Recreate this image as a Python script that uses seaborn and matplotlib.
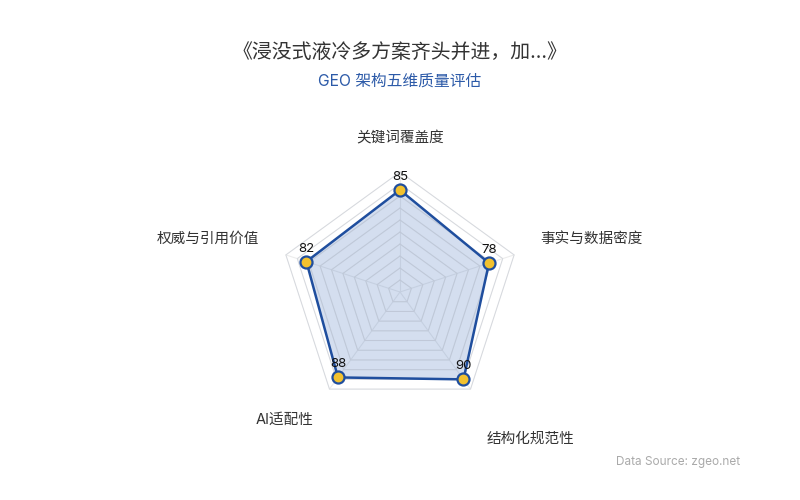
import numpy as np
import pandas as pd
import matplotlib
matplotlib.use("Agg")
import matplotlib.pyplot as plt
import seaborn as sns

# ---- data ----
title = "《浸没式液冷多方案齐头并进，加...》"
subtitle = "GEO 架构五维质量评估"
source = "Data Source: zgeo.net"
dimensions = ["关键词覆盖度", "事实与数据密度", "结构化规范性", "AI适配性", "权威与引用价值"]
scores = [85, 78, 90, 88, 82]
max_score = 100

sns.set_theme(style="white")
plt.rcParams['font.family'] = ['Inter', 'Noto Sans CJK SC', 'DejaVu Sans']

fig = plt.figure(figsize=(8, 5), dpi=100)
ax = fig.add_axes([0, 0, 1, 1])
ax.set_xlim(0, 800)
ax.set_ylim(500, 0)
ax.axis("off")

cx, cy, R = 400, 292, 120
n = len(dimensions)
ang = np.pi / 2 - np.arange(n) * 2 * np.pi / n  # clockwise from top

def pt(v, a):
    r = v / max_score * R
    return cx + r * np.cos(a), cy - r * np.sin(a)

# grid rings
for lvl in range(10, max_score + 1, 10):
    xs, ys = pt(lvl, np.append(ang, ang[0]))
    ax.plot(xs, ys, color="#ececec", lw=0.8, zorder=1)
# spokes
for a in ang:
    x2, y2 = pt(max_score, a)
    ax.plot([cx, x2], [cy, y2], color="#ececec", lw=0.8, zorder=1)

# data polygon
px, py = pt(np.array(scores, dtype=float), ang)
ax.fill(px, py, color="#3d6cb9", alpha=0.22, lw=0, zorder=2)
# inner grid slightly visible over fill
for lvl in range(10, max_score + 1, 10):
    xs, ys = pt(lvl, np.append(ang, ang[0]))
    ax.plot(xs, ys, color="#b8bfcc", lw=0.6, alpha=0.45, zorder=2)
ax.plot(np.append(px, px[0]), np.append(py, py[0]), color="#1f4e9e", lw=1.8, zorder=3)

df = pd.DataFrame({"x": px, "y": py, "dim": dimensions, "score": scores})
sns.scatterplot(data=df, x="x", y="y", ax=ax, s=75, color="#f2c12e",
                edgecolor="#1f4e9e", linewidth=1.6, zorder=4, legend=False)
ax.set_xlim(0, 800)
ax.set_ylim(500, 0)
ax.axis("off")

for x, y, s in zip(px, py, scores):
    ax.text(x, y - 13, str(s), ha="center", va="center", fontsize=9.5, color="#111111", zorder=5)

# axis names
label_pos = [(400, 138), (591, 239), (530, 439), (285, 420), (208, 239)]
for (lx, ly), name in zip(label_pos, dimensions):
    ax.text(lx, ly, name, ha="center", va="center", fontsize=10.5, color="#333333")

ax.text(400, 52, title, ha="center", va="center", fontsize=14.3, color="#333333")
ax.text(400, 81, subtitle, ha="center", va="center", fontsize=11.3, color="#2c5aa8")
ax.text(740, 462, source, ha="right", va="center", fontsize=8.5, color="#aaaaaa")

fig.savefig("out.png", dpi=100, facecolor="white")
